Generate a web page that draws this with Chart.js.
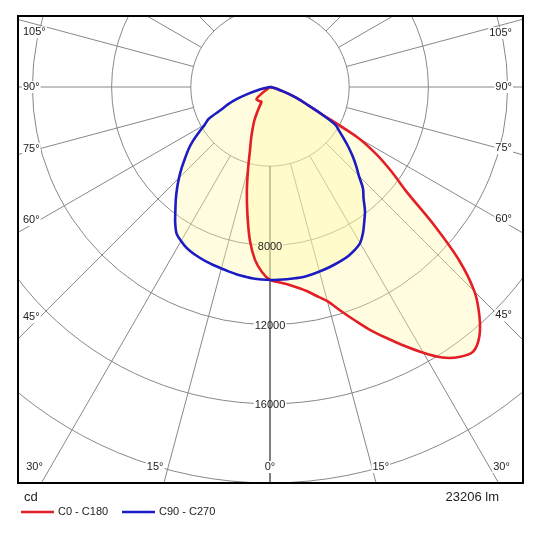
<!DOCTYPE html>
<html>
<head>
<meta charset="utf-8">
<script src="https://cdn.jsdelivr.net/npm/chart.js@4.4.1/dist/chart.umd.min.js"></script>
<style>
html,body{margin:0;padding:0;background:#fff;}
#wrap{position:relative;width:539px;height:540px;}
</style>
</head>
<body>
<div id="wrap"><canvas id="c"></canvas></div>
<script>
// ---------- DATA ----------
const gammaAngles = [0,2.5,5,7.5,10,12.5,15,17.5,20,22.5,25,27.5,30,32.5,35,37.5,40,42.5,45,47.5,50,52.5,55,57.5,60,62.5,65,67.5,70,72.5,75,77.5,80,82.5,85,87.5,90];
// C0 (right half of red curve), C180 (left half of red curve)
const c0   = [9746,9870,10000,10200,10450,10800,11200,11850,12550,13300,14000,14750,15500,16200,16650,16850,16450,15650,14600,12950,10750,8700,7550,6450,5150,2850,2000,1450,950,580,380,220,120,50,0,0,0];
const c180 = [9746,9350,8750,7800,6560,5400,4280,3370,2800,2300,1880,1300,860,870,880,890,900,910,920,930,800,300,0,0,0,0,0,0,0,0,0,0,0,0,0,0,0];
// C90 (right half of blue curve), C270 (left half of blue curve)
const c90  = [9746,9746,9745,9742,9740,9700,9650,9600,9540,9480,9400,9280,9100,8740,8300,7880,7350,6950,6350,5900,5450,5000,4550,4150,3800,2850,2000,1450,950,580,380,220,120,50,0,0,0];
const c270 = [9746,9730,9710,9660,9610,9550,9490,9440,9390,9320,9250,9150,8980,8780,8350,7850,7400,6950,6500,6050,5600,5200,4750,4250,3800,3500,2750,2300,1800,1200,650,300,100,30,0,0,0];

const seriesNames = ['C0 - C180', 'C90 - C270'];
const ringValues = [4000, 8000, 12000, 16000, 20000, 24000];
const ringLabelValues = [8000, 12000, 16000];
const gridAngles = [0, 15, 30, 45, 60, 75, 90, 105, 120, 135, 150, 165, 180];
const unitLabel = 'cd';
const fluxLabel = '23206 lm';

// ---------- LAYOUT / STYLE ----------
const PX_PER_CD = 79.2 / 4000;
const PLOT_W = 505, PLOT_H = 467;
const CENTER_FROM_LEFT = 252, CENTER_FROM_TOP = 71;
const RED = '#e31e24', BLUE = '#1c1cc4';
const FILL = 'rgba(255,246,165,0.36)';
const GRID = '#888888';
const FONT = '"Liberation Sans", Arial, sans-serif';
const DEG = Math.PI / 180;

function curve(leftVals, rightVals) {
  const pts = [];
  for (let i = gammaAngles.length - 1; i >= 0; i--) {
    const g = gammaAngles[i] * DEG;
    pts.push({x: -leftVals[i] * Math.sin(g), y: -leftVals[i] * Math.cos(g)});
  }
  for (let i = 1; i < gammaAngles.length; i++) {
    const g = gammaAngles[i] * DEG;
    pts.push({x: rightVals[i] * Math.sin(g), y: -rightVals[i] * Math.cos(g)});
  }
  return pts;
}

const polarGrid = {
  id: 'polarGrid',
  beforeDraw(chart) {
    const {ctx, chartArea: a, scales: {x, y}} = chart;
    const cx = x.getPixelForValue(0), cy = y.getPixelForValue(0);
    const k = x.getPixelForValue(1000) - cx;
    ctx.save();
    ctx.beginPath(); ctx.rect(a.left, a.top, a.right - a.left, a.bottom - a.top); ctx.clip();
    ctx.lineWidth = 1; ctx.strokeStyle = GRID;
    ringValues.forEach(v => { ctx.beginPath(); ctx.arc(cx, cy, v / 1000 * k, 0, 2 * Math.PI); ctx.stroke(); });
    const r0 = ringValues[0] / 1000 * k, r1 = 2000;
    gridAngles.forEach(gd => {
      [-1, 1].forEach(side => {
        if (gd === 0) return;
        const g = gd * DEG;
        ctx.beginPath();
        ctx.moveTo(cx + side * r0 * Math.sin(g), cy + r0 * Math.cos(g));
        ctx.lineTo(cx + side * r1 * Math.sin(g), cy + r1 * Math.cos(g));
        ctx.stroke();
      });
    });
    // label backgrounds for intensity labels
    ctx.font = '11px ' + FONT;
    ctx.fillStyle = '#fff';
    ringLabelValues.forEach(v => {
      const w = ctx.measureText(String(v)).width;
      const ly = cy + v / 1000 * k + 1.5;
      ctx.fillRect(cx - w / 2 - 1, ly - 6, w + 2, 12);
    });
    // 0 degree axis
    ctx.strokeStyle = '#000';
    ctx.beginPath(); ctx.moveTo(cx, cy + r0); ctx.lineTo(cx, a.bottom); ctx.stroke();
    ctx.restore();
  },
  afterDatasetsDraw(chart) {
    const {ctx, chartArea: a, scales: {x, y}} = chart;
    const cx = x.getPixelForValue(0), cy = y.getPixelForValue(0);
    const k = x.getPixelForValue(1000) - cx;
    ctx.save();
    ctx.font = '11px ' + FONT;
    ctx.textBaseline = 'middle';
    ctx.fillStyle = '#222';
    ctx.textAlign = 'center';
    ringLabelValues.forEach(v => {
      ctx.fillText(String(v), cx, cy + v / 1000 * k + 1.5);
    });
    // angle labels
    const done = new Set();
    gridAngles.forEach(gd => {
      [-1, 1].forEach(side => {
        const key = (gd === 0 || gd === 180) ? String(gd) : gd * side;
        if (done.has(key)) return; done.add(key);
        const g = gd * DEG;
        const dx = side * Math.sin(g), dy = Math.cos(g);
        let best = Infinity, edge = null;
        if (dx < -1e-9) { const t = (a.left - cx) / dx; if (t < best) { best = t; edge = 'left'; } }
        if (dx > 1e-9) { const t = (a.right - cx) / dx; if (t < best) { best = t; edge = 'right'; } }
        if (dy > 1e-9) { const t = (a.bottom - cy) / dy; if (t < best) { best = t; edge = 'bottom'; } }
        if (dy < -1e-9) { const t = (a.top - cy) / dy; if (t < best) { best = t; edge = 'top'; } }
        if (edge === 'top' || edge === null) return;
        const txt = gd + '°';
        const w = ctx.measureText(txt).width;
        let ty, left;
        if (edge === 'bottom') {
          ty = a.bottom - 16;
          const lx = cx + (dx / dy) * (a.bottom - 6 - cy);
          if (gd === 0) { left = lx - w / 2; }
          else if (side < 0) { left = lx - 2 - w; }
          else { left = lx - 2; }
        } else {
          if (edge === 'left') left = a.left + 5; else left = a.right - 11 - w;
          const ax = edge === 'left' ? left + w : left + 3;
          const t = Math.abs(ax - cx) / Math.abs(dx);
          const ly = cy + t * dy;
          ty = ly + (gd > 90 ? 5.5 : 0);
        }
        ctx.fillStyle = '#fff';
        ctx.fillRect(left - 1, ty - 6, w + 2, 12);
        ctx.fillStyle = '#222';
        ctx.textAlign = 'left';
        ctx.fillText(txt, left, ty);
      });
    });
    // frame
    ctx.lineWidth = 2; ctx.strokeStyle = '#000';
    ctx.strokeRect(a.left, a.top, a.right - a.left, a.bottom - a.top);
    ctx.restore();
  },
  afterDraw(chart) {
    const {ctx, chartArea: a} = chart;
    const ds = chart.data.datasets;
    ctx.save();
    ctx.fillStyle = '#222';
    ctx.textBaseline = 'middle';
    ctx.font = '13px ' + FONT;
    ctx.textAlign = 'left';
    ctx.fillText(unitLabel, a.left + 6, a.bottom + 14);
    ctx.textAlign = 'right';
    ctx.fillText(fluxLabel, a.right - 24, a.bottom + 14);
    ctx.font = '11px ' + FONT;
    ctx.textAlign = 'left';
    let lx = a.left + 3;
    const ly = a.bottom + 29;
    ds.forEach((d, i) => {
      ctx.strokeStyle = d.borderColor; ctx.lineWidth = 2.5;
      ctx.beginPath(); ctx.moveTo(lx, ly); ctx.lineTo(lx + 33, ly); ctx.stroke();
      ctx.fillStyle = '#222';
      ctx.fillText(d.label, lx + 37, ly);
      lx += 101;
    });
    ctx.restore();
  }
};

new Chart(document.getElementById('c'), {
  type: 'line',
  data: {
    datasets: [
      {label: seriesNames[0], data: curve(c180, c0), borderColor: RED, backgroundColor: FILL, borderWidth: 2.6, fill: 'shape', pointRadius: 0, tension: 0.3, order: 1},
      {label: seriesNames[1], data: curve(c270, c90), borderColor: BLUE, backgroundColor: FILL, borderWidth: 2.6, fill: 'shape', pointRadius: 0, tension: 0.3, order: 0}
    ]
  },
  options: {
    responsive: true,
    maintainAspectRatio: false,
    animation: false,
    layout: {padding: {left: 18, top: 16, right: 539 - 18 - PLOT_W, bottom: 540 - 16 - PLOT_H}},
    scales: {
      x: {type: 'linear', display: false, min: -CENTER_FROM_LEFT / PX_PER_CD, max: (PLOT_W - CENTER_FROM_LEFT) / PX_PER_CD},
      y: {type: 'linear', display: false, min: -(PLOT_H - CENTER_FROM_TOP) / PX_PER_CD, max: CENTER_FROM_TOP / PX_PER_CD}
    },
    plugins: {legend: {display: false}, tooltip: {enabled: false}, filler: {drawTime: 'beforeDatasetsDraw'}}
  },
  plugins: [polarGrid]
});
</script>
</body>
</html>
